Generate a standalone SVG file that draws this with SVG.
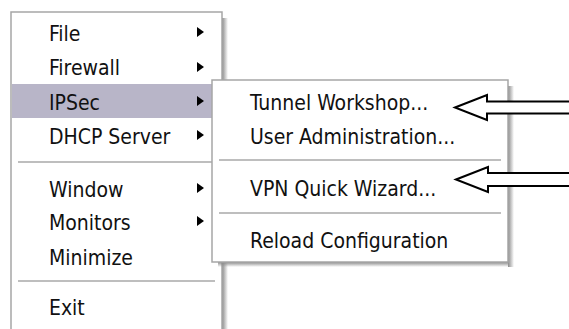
<svg xmlns="http://www.w3.org/2000/svg" width="569" height="329" viewBox="0 0 569 329">
<defs>
<style>
.t{font-family:"DejaVu Sans Condensed","DejaVu Sans",sans-serif;font-stretch:condensed;font-size:21px;fill:#111}
.menu{fill:#fff;stroke:#a6a6a6;stroke-width:1.5}
.sep{stroke:#a8a8a8;stroke-width:1.5}
.tri{fill:#000}
.big{fill:#fff;stroke:#000;stroke-width:2;stroke-linejoin:miter}
</style>
<linearGradient id="shV" x1="0" y1="0" x2="1" y2="0">
<stop offset="0" stop-color="#8a8a8a"/>
<stop offset="1" stop-color="#8a8a8a" stop-opacity="0"/>
</linearGradient>
<linearGradient id="shH" x1="0" y1="0" x2="0" y2="1">
<stop offset="0" stop-color="#8a8a8a"/>
<stop offset="1" stop-color="#8a8a8a" stop-opacity="0"/>
</linearGradient>
</defs>
<rect width="569" height="329" fill="#fff"/>

<g id="main-menu">
<rect x="222" y="18" width="6" height="311" fill="url(#shV)"/>
<rect class="menu" x="11" y="12" width="211" height="330"/>
<rect x="12" y="84" width="209" height="34" fill="#b8b5c8"/>
<line class="sep" x1="18" y1="162" x2="215" y2="162"/>
<line class="sep" x1="18" y1="281" x2="215" y2="281"/>
<text class="t" x="49" y="41">File</text>
<text class="t" x="49" y="75">Firewall</text>
<text class="t" x="49" y="110">IPSec</text>
<text class="t" x="49" y="144">DHCP Server</text>
<text class="t" x="49" y="197">Window</text>
<text class="t" x="49" y="230">Monitors</text>
<text class="t" x="49" y="265">Minimize</text>
<text class="t" x="49" y="315">Exit</text>
<path class="tri" d="M197 27 L204 32 L197 37 Z"/>
<path class="tri" d="M197 62 L204 67 L197 72 Z"/>
<path class="tri" d="M197 96 L204 101 L197 106 Z"/>
<path class="tri" d="M197 130 L204 135 L197 140 Z"/>
<path class="tri" d="M197 183 L204 188 L197 193 Z"/>
<path class="tri" d="M197 216 L204 221 L197 226 Z"/>
</g>

<g id="ipsec-submenu">
<rect x="508" y="86" width="6" height="181" fill="url(#shV)"/>
<rect x="218" y="262" width="290" height="5" fill="url(#shH)"/>
<rect class="menu" x="212" y="80" width="296" height="182"/>
<line class="sep" x1="219" y1="160" x2="501" y2="160"/>
<line class="sep" x1="219" y1="213" x2="501" y2="213"/>
<text class="t" x="250" y="110">Tunnel Workshop...</text>
<text class="t" x="250" y="144">User Administration...</text>
<text class="t" x="250" y="196">VPN Quick Wizard...</text>
<text class="t" x="250" y="248">Reload Configuration</text>
</g>

<g id="connectors">
<path class="big" d="M455 107.5 L487 95 L487 101.5 L572 101.5 L572 113.5 L487 113.5 L487 120 Z"/>
<path class="big" d="M456 179.5 L488 167 L488 173 L572 173 L572 186 L488 186 L488 192 Z"/>
</g>
</svg>
